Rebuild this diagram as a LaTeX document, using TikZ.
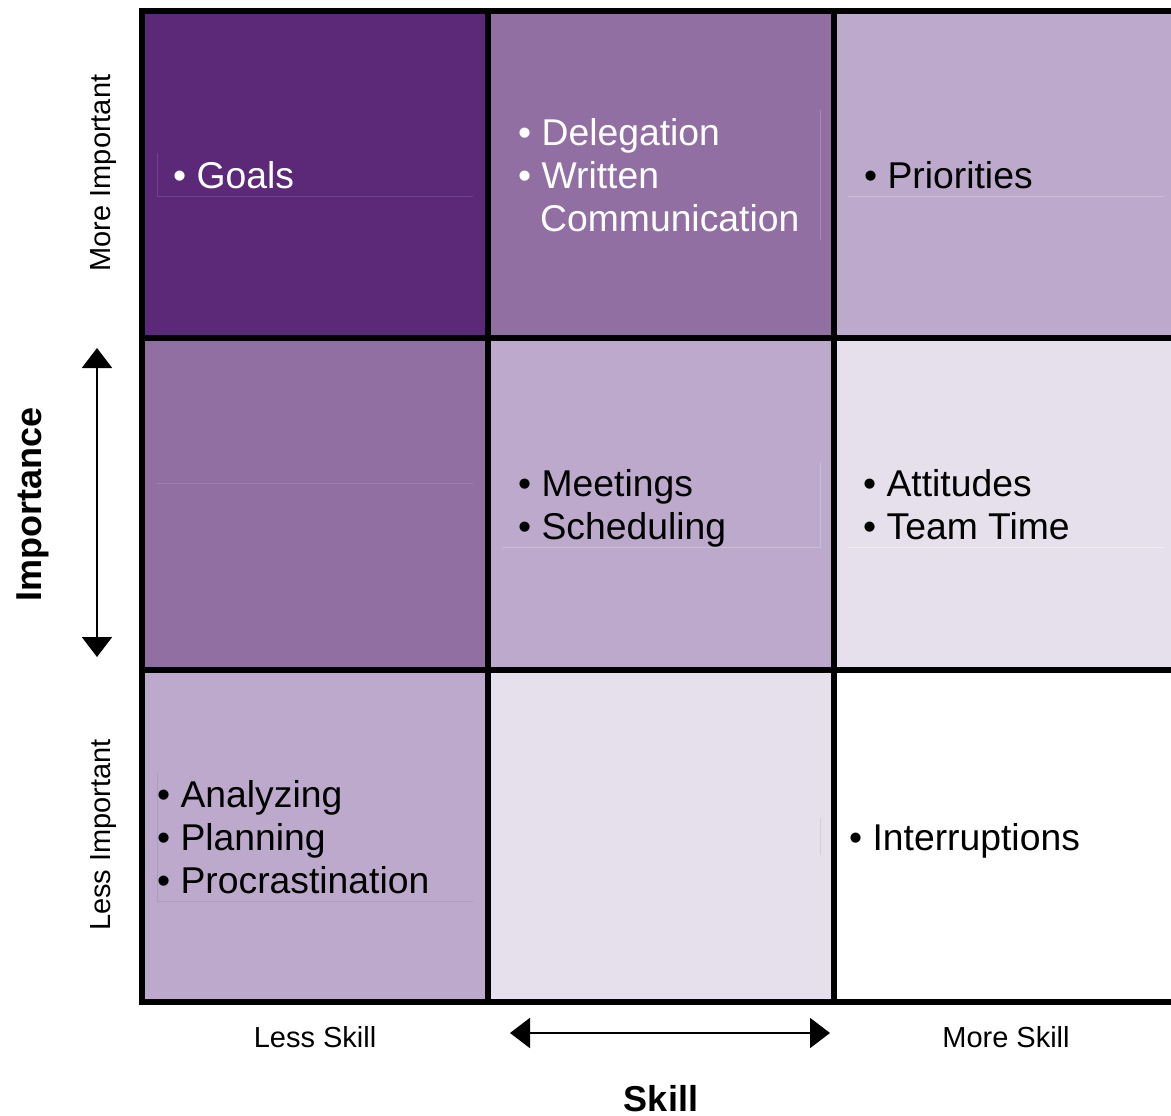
\documentclass[tikz,border=0pt]{standalone}
\usepackage{fontspec}
\setmainfont{Liberation Sans}
\usetikzlibrary{arrows.meta}
\definecolor{cDark}{HTML}{5C2878}
\definecolor{cMed}{HTML}{926FA3}
\definecolor{cLight}{HTML}{BCA9CB}
\definecolor{cPale}{HTML}{E5E0EB}
\begin{document}
\begin{tikzpicture}[x=1pt,y=-1pt,
  cell/.style={draw=none,inner sep=0pt,outer sep=0pt,minimum width=#1},
  item/.style={anchor=base west,inner sep=0pt,font=\fontsize{37.3}{43}\selectfont},
  axlab/.style={anchor=base,inner sep=0pt,font=\fontsize{29}{33}\selectfont},
  axtitle/.style={anchor=base,inner sep=0pt,font=\fontsize{36}{40}\selectfont\bfseries},
  grid/.style={line width=6pt,black},
  faint/.style={line width=0.6pt},
  axarrow/.style={line width=2pt,{Triangle[length=20pt,width=30pt]}-{Triangle[length=20pt,width=30pt]}}]
\useasboundingbox (0,0) rectangle (1171,1116);
% cells
\node[cell=346pt,minimum height=327pt,fill=cDark] (c11) at (315,174.5) {};
\node[cell=346pt,minimum height=327pt,fill=cMed] (c12) at (661,174.5) {};
\node[cell=337pt,minimum height=327pt,fill=cLight] (c13) at (1002.5,174.5) {};
\node[cell=346pt,minimum height=332pt,fill=cMed] (c21) at (315,504) {};
\node[cell=346pt,minimum height=332pt,fill=cLight] (c22) at (661,504) {};
\node[cell=337pt,minimum height=332pt,fill=cPale] (c23) at (1002.5,504) {};
\node[cell=346pt,minimum height=332pt,fill=cLight] (c31) at (315,836) {};
\node[cell=346pt,minimum height=332pt,fill=cPale] (c32) at (661,836) {};
\node[cell=337pt,minimum height=332pt,fill=white] (c33) at (1002.5,836) {};
% faint text-box outlines
\draw[faint,draw=cDark!88!white] (157,153) -- (157,196) -- (473,196);
\draw[faint,draw=cMed!82!white] (820,110) -- (820,240);
\draw[faint,draw=cLight!75!white] (848,196) -- (1164,196);
\draw[faint,draw=cMed!88!white] (157,483) -- (473,483);
\draw[faint,draw=cLight!75!white] (820,462) -- (820,547) -- (503,547);
\draw[faint,draw=cPale!60!white] (848,547) -- (1164,547);
\draw[faint,draw=cLight!92!black] (157,773) -- (157,901) -- (473,901);
\draw[faint,draw=cPale!92!black] (820,818) -- (820,855);
% grid lines
\draw[grid] (1171,11) -- (142,11) -- (142,1002) -- (1171,1002);
\draw[grid] (142,338) -- (1171,338);
\draw[grid] (142,670) -- (1171,670);
\draw[grid] (488,11) -- (488,1002);
\draw[grid] (834,11) -- (834,1002);
% cell texts
\node[item,text=white] (t11) at (173,188) {• Goals};
\node[item,text=white] (t12a) at (518,145) {• Delegation};
\node[item,text=white] (t12b) at (518,188) {• Written};
\node[item,text=white] (t12c) at (540,231) {Communication};
\node[item] (t13) at (864,188) {• Priorities};
\node[item] (t22a) at (518,496) {• Meetings};
\node[item] (t22b) at (518,539) {• Scheduling};
\node[item] (t23a) at (863,496) {• Attitudes};
\node[item] (t23b) at (863,539) {• Team Time};
\node[item] (t31a) at (157,807) {• Analyzing};
\node[item] (t31b) at (157,850) {• Planning};
\node[item] (t31c) at (157,893) {• Procrastination};
\node[item] (t33) at (849,850) {• Interruptions};
% axis labels
\node[axlab,rotate=90] (more) at (110,173) {More Important};
\node[axlab,rotate=90] (less) at (110,835) {Less Important};
\node[axtitle,rotate=90] (imp) at (41,504) {Importance};
\node[axlab] (lskill) at (315,1047) {Less Skill};
\node[axlab] (mskill) at (1006,1047) {More Skill};
\node[axtitle] (skill) at (661,1111) {Skill};
% arrows
\coordinate (vtop) at (97,348);
\coordinate (vbot) at (97,657);
\coordinate (hl) at (510,1033);
\coordinate (hr) at (830,1033);
\draw[axarrow] (vtop) -- (vbot);
\draw[axarrow] (hl) -- (hr);
\end{tikzpicture}
\end{document}
